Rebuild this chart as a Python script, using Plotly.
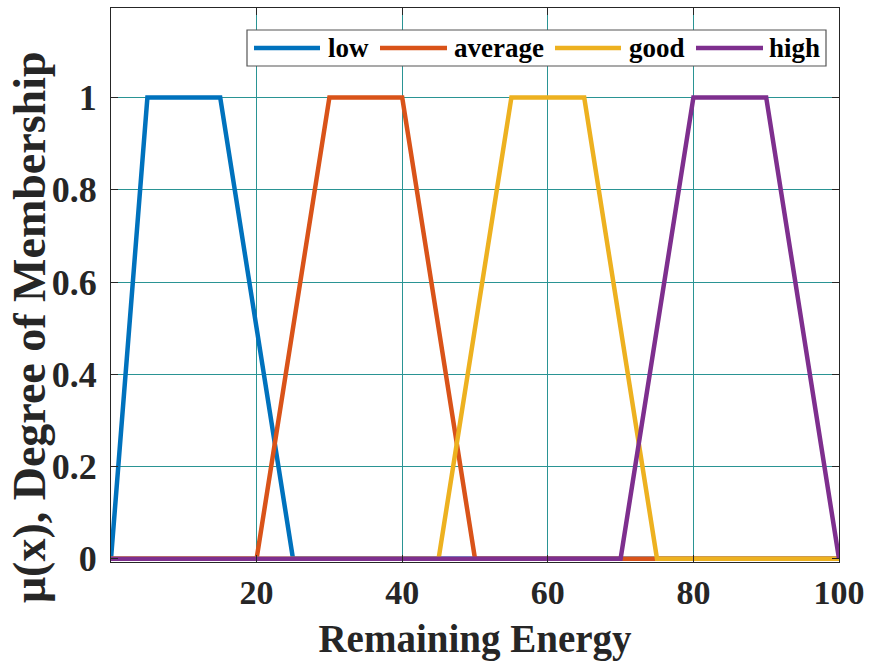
import plotly.graph_objects as go

# Membership function vertices (Remaining Energy -> degree of membership)
x_low = [0, 5, 15, 25, 100]
y_low = [0, 1, 1, 0, 0]
x_average = [0, 20, 30, 40, 50, 100]
y_average = [0, 0, 1, 1, 0, 0]
x_good = [0, 45, 55, 65, 75, 100]
y_good = [0, 0, 1, 1, 0, 0]
x_high = [0, 70, 80, 90, 100]
y_high = [0, 0, 1, 1, 0]

names = ["low", "average", "good", "high"]
colors = ["#0072BD", "#D95319", "#EDB120", "#7E2F8E"]
xs = [x_low, x_average, x_good, x_high]
ys = [y_low, y_average, y_good, y_high]

x_tickvals = [20, 40, 60, 80, 100]
y_tickvals = [0, 0.2, 0.4, 0.6, 0.8, 1]
y_ticktext = ["0", "0.2", "0.4", "0.6", "0.8", "1"]

FONT = "Liberation Serif"
INK = "#262626"
GRID = "#2a9494"

W, H = 869, 662
ML, MR, MT, MB = 111, 30, 8, 100
PW, PH = W - ML - MR, H - MT - MB


def px_to_paper(px, py):
    return (px - ML) / PW, (H - MB - py) / PH


fig = go.Figure()
for n, c, x, y in zip(names, colors, xs, ys):
    fig.add_trace(go.Scatter(x=x, y=y, mode="lines", name=n,
                             line=dict(color=c, width=4.5), showlegend=False,
                             hoverinfo="skip"))

# ---- Custom legend (MATLAB-like, horizontal, boxed) ----
legend_box = (247, 30, 826, 66)          # left, top, right, bottom (pixels)
legend_row_y = 48
swatch_spans = [(254, 320), (380, 447), (555, 621), (696, 763)]
label_left = [327, 453, 628, 768]

shapes = []
x0, y0 = px_to_paper(legend_box[0], legend_box[3])
x1, y1 = px_to_paper(legend_box[2], legend_box[1])
shapes.append(dict(type="rect", xref="paper", yref="paper", x0=x0, y0=y0, x1=x1, y1=y1,
                   line=dict(color="#555555", width=1.2), fillcolor="white", layer="above"))
annotations = []
for n, c, (sa, sb), tl in zip(names, colors, swatch_spans, label_left):
    ax, ay = px_to_paper(sa, legend_row_y)
    bx, _ = px_to_paper(sb, legend_row_y)
    shapes.append(dict(type="line", xref="paper", yref="paper", x0=ax, y0=ay, x1=bx, y1=ay,
                       line=dict(color=c, width=4.5), layer="above"))
    tx, ty = px_to_paper(tl, legend_row_y)
    annotations.append(dict(text=n, xref="paper", yref="paper", x=tx, y=ty,
                            xanchor="left", yanchor="middle", showarrow=False,
                            borderpad=0,
                            font=dict(family=FONT, size=27, color="black", weight="bold")))

tx, ty = px_to_paper(29, 327)
annotations.append(dict(
    text="μ(x), Degree of Membership", textangle=-90,
    xref="paper", yref="paper", x=tx, y=ty,
    xanchor="center", yanchor="middle", showarrow=False,
    font=dict(family=FONT, size=46, color=INK, weight="bold"),
))

fig.update_layout(
    width=W, height=H,
    margin=dict(l=ML, r=MR, t=MT, b=MB, autoexpand=False),
    paper_bgcolor="white", plot_bgcolor="white",
    font=dict(family=FONT, color="#111111"),
    showlegend=False,
    xaxis=dict(
        range=[0, 100], tickvals=x_tickvals,
        showgrid=True, gridcolor=GRID, gridwidth=1, zeroline=False,
        showline=True, linecolor=INK, linewidth=1, mirror="ticks",
        ticks="inside", ticklen=7, tickcolor=INK, automargin=False,
        tickfont=dict(family=FONT, size=34, color=INK, weight="bold"),
        title=dict(text="Remaining Energy", standoff=14,
                   font=dict(family=FONT, size=39, color=INK, weight="bold")),
    ),
    yaxis=dict(
        range=[-0.007, 1.194], tickvals=y_tickvals, ticktext=y_ticktext,
        showgrid=True, gridcolor=GRID, gridwidth=1, zeroline=False,
        showline=True, linecolor=INK, linewidth=1, mirror="ticks",
        ticks="inside", ticklen=7, tickcolor=INK, automargin=False,
        tickfont=dict(family=FONT, size=36, color=INK, weight="bold"),
        ticklabelstandoff=6,
    ),
    shapes=shapes,
    annotations=annotations,
)

fig.write_html("out.html", config={"displayModeBar": False},
               post_script="document.body.style.margin='0';document.body.style.overflow='hidden';")
